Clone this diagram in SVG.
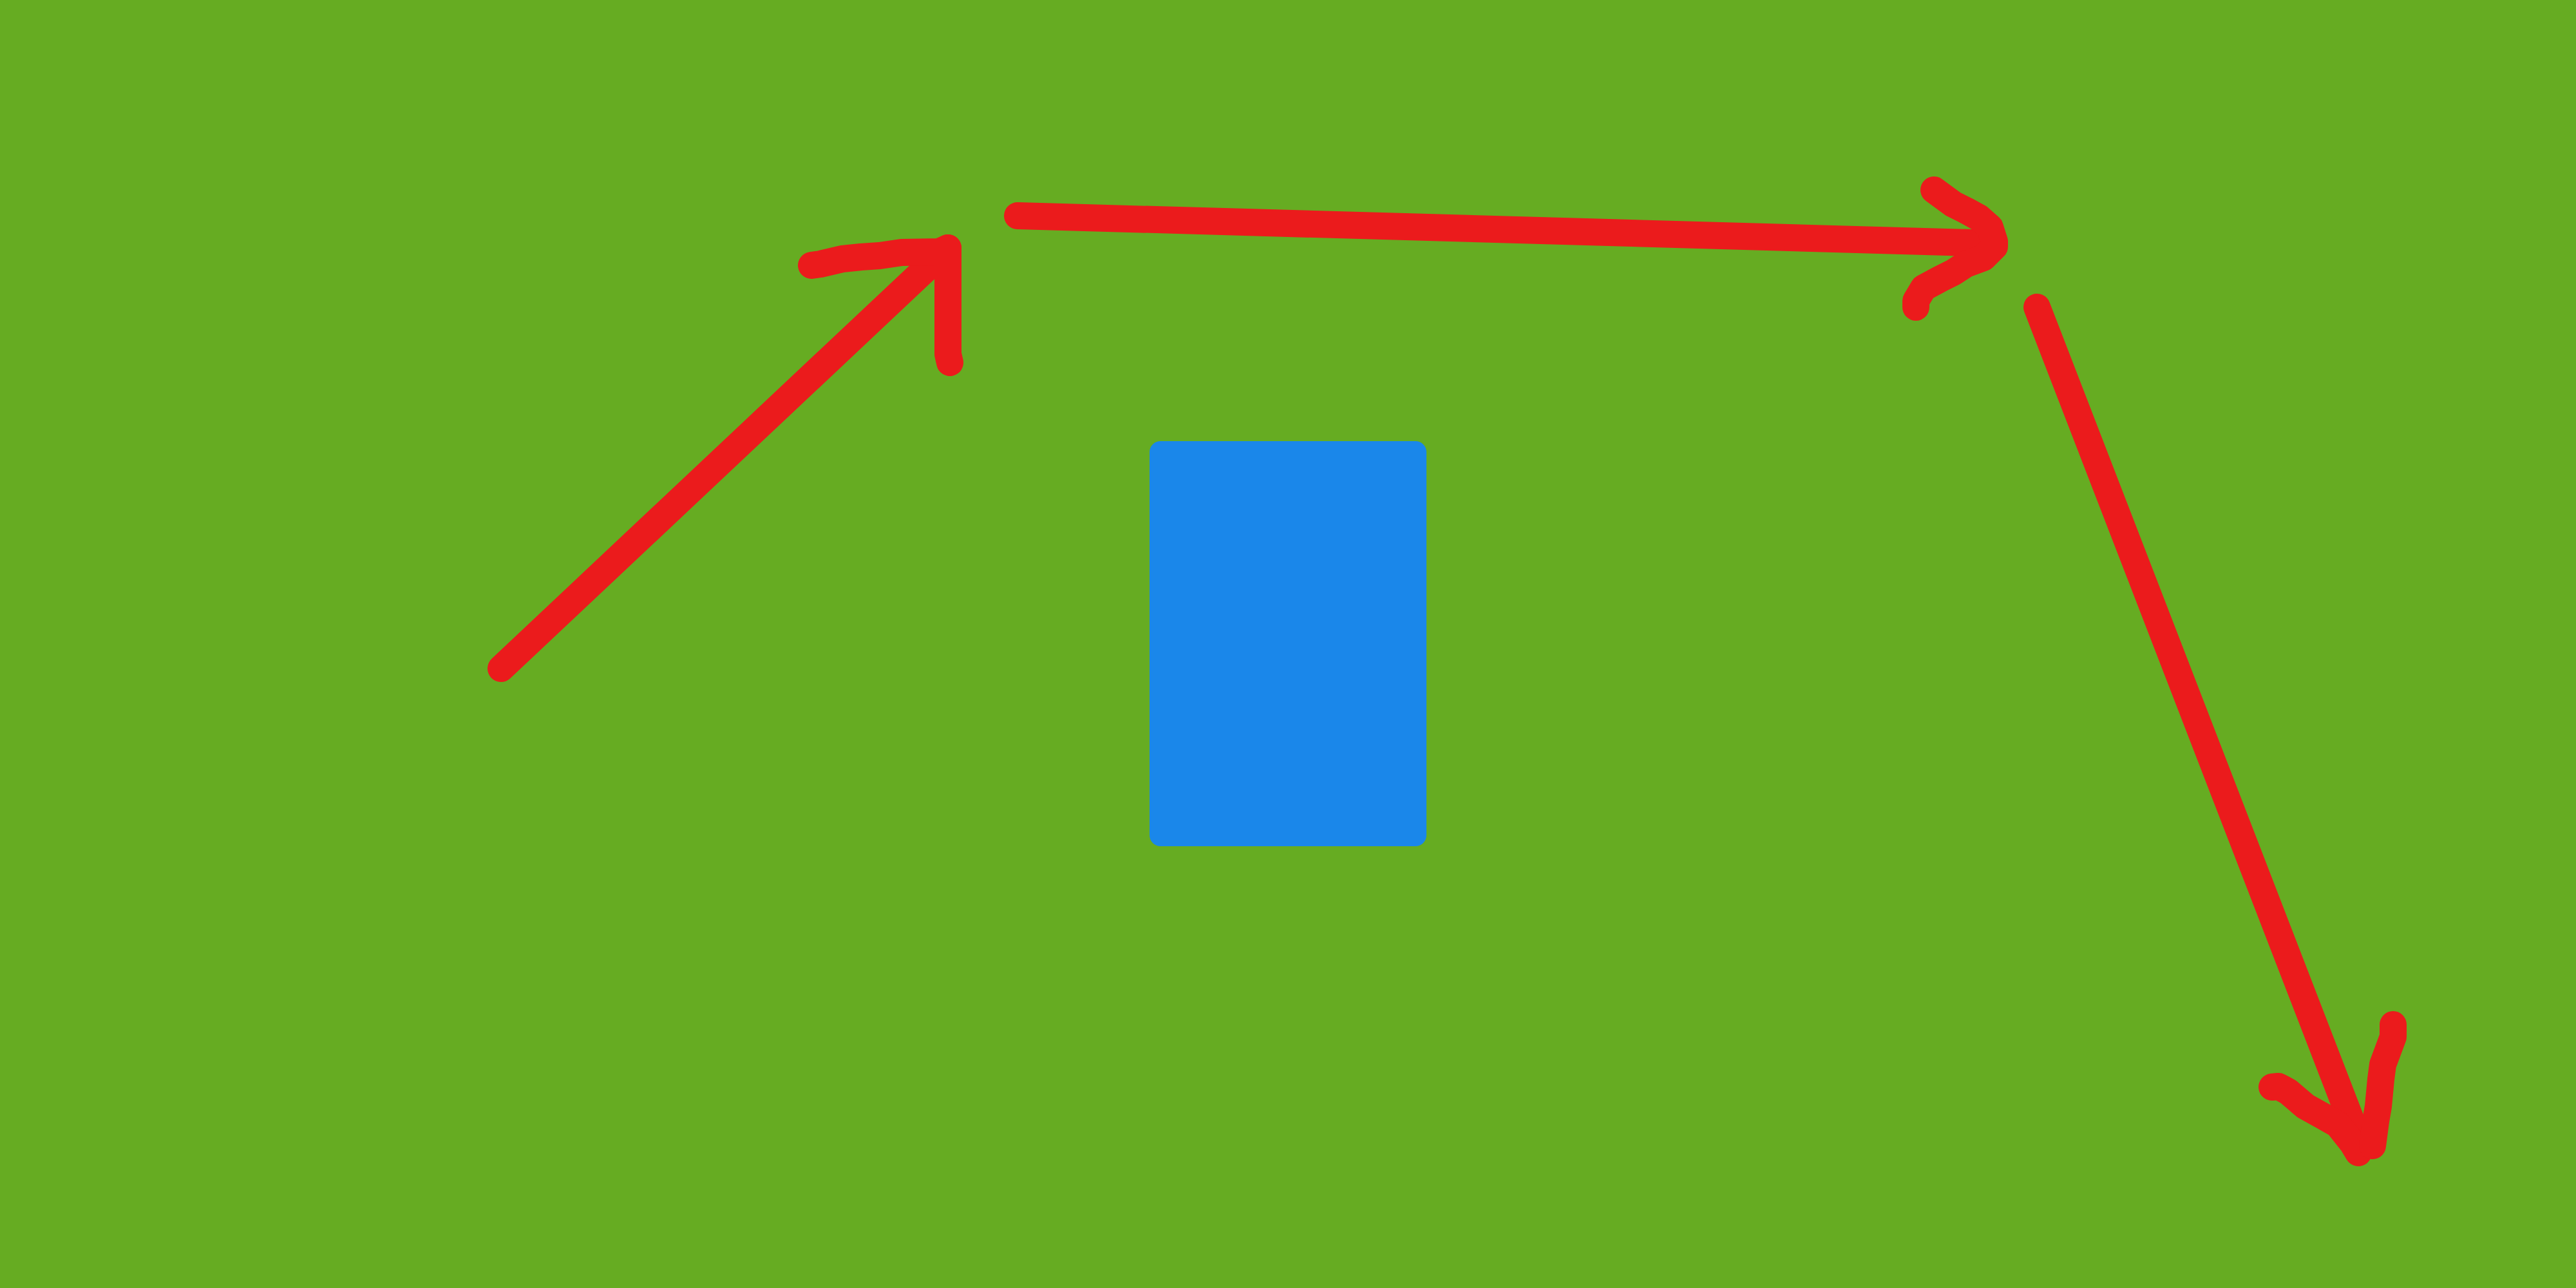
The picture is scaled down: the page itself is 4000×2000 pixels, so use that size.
<svg xmlns="http://www.w3.org/2000/svg" width="4000" height="2000" viewBox="0 0 4000 2000">
<style>
.bg{fill:#66AC22}
.node{fill:#1A87EA}
.stroke{fill:none;stroke:#EB1B1C;stroke-width:42;stroke-linecap:round;stroke-linejoin:round}
</style>
<rect class="bg" x="0" y="0" width="4000" height="2000"/>
<g id="node-box">
<rect class="node" x="1785" y="685" width="430" height="629" rx="17" ry="17"/>
</g>
<g id="connectors">
<g id="arrow-1">
<path class="stroke" d="M778,1038 L1472,385"/>
<path class="stroke" d="M1260,412 L1274,410 L1308,402 L1337,399 L1366,397 L1400,392 L1458,391 L1472,385 L1472,550 L1475,563"/>
</g>
<g id="arrow-2">
<path class="stroke" d="M1580,335 L3097,378"/>
<path class="stroke" d="M3003,295 L3033,317 L3053,327 L3073,338 L3090,353 L3097,375 L3097,383 L3080,400 L3053,410 L3033,423 L3013,433 L2987,447 L2975,467 L2975,477"/>
</g>
<g id="arrow-3">
<path class="stroke" d="M3163,477 L3666,1779"/>
<path class="stroke" d="M3528,1688 L3538,1687 L3553,1695 L3580,1718 L3607,1733 L3630,1746 L3653,1775 L3662,1790"/>
<path class="stroke" d="M3716,1591 L3716,1610 L3700,1653 L3697,1676 L3693,1718 L3689,1741 L3684,1779"/>
</g>
</g>
</svg>
